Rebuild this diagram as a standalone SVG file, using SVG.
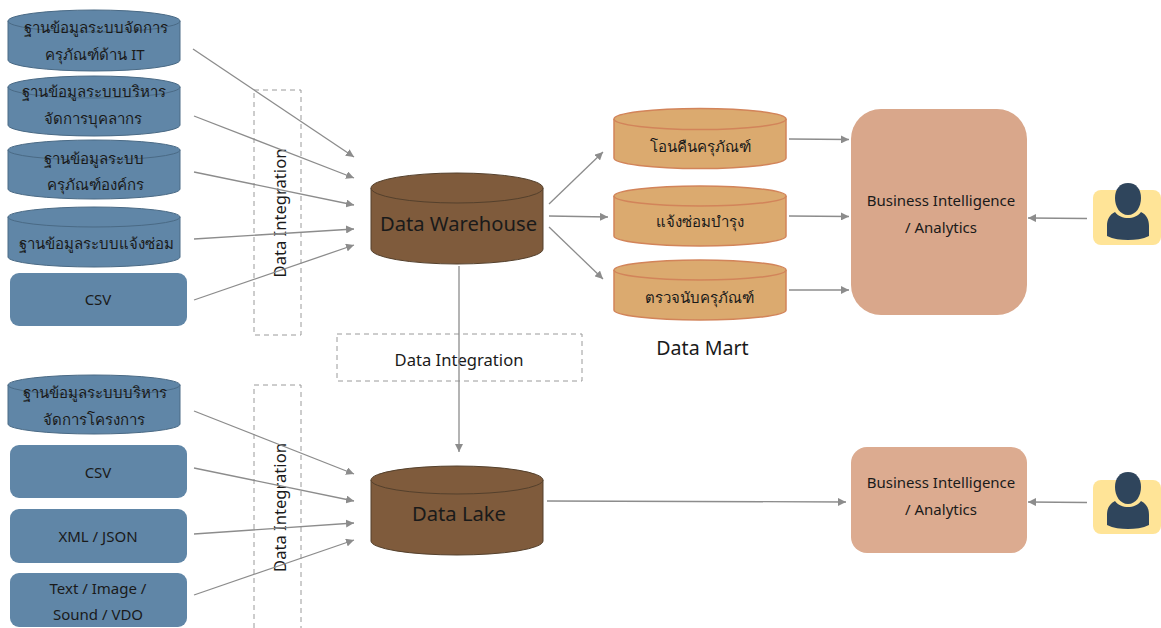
<svg xmlns="http://www.w3.org/2000/svg" width="1161" height="628" viewBox="0 0 1161 628">
<style>
text{font-family:"Noto Sans","Open Sans","DejaVu Sans",sans-serif;fill:#1a1a1a;text-anchor:middle}
.s{font-size:15px}
.i{font-size:16.600px}
.m{font-size:20.200px}
.blue{fill:#6086a7;stroke:#4a6a85;stroke-width:1}
.rblue{fill:#6086a7;stroke:none}
.brown{fill:#7f5b3c;stroke:#54402c;stroke-width:1}
.tan{fill:#dbaa6f;stroke:#d2845a;stroke-width:1.5}
.dash{fill:none;stroke:#9a9a9a;stroke-width:1;stroke-dasharray:5 4}
.c{stroke:#8c8c8c;stroke-width:1.300;fill:none;marker-end:url(#a)}
.u{fill:#2f455c}
.y{fill:#ffe497}
</style>
<defs>
<marker id="a" viewBox="0 0 10 10" refX="10" refY="5" markerWidth="8" markerHeight="8" orient="auto" markerUnits="userSpaceOnUse"><path d="M0 0L10 5L0 10Z" fill="#8c8c8c"/></marker>
<g id="user"><path d="M1128 183c-8 0-13 6-13 15 0 9 5 17 13 17s13-8 13-17c0-9-5-15-13-15z" class="u"/><path d="M1115 212c-6 3-8 8-8 14l0 10c6 3 14 4 21 4s15-1 21-4l0-10c0-6-2-11-8-14-3 4-8 6-13 6s-10-2-13-6z" class="u"/></g>
</defs>
<g id="integration-1"><rect class="dash" x="254" y="90" width="47" height="245"/><text class="i" transform="translate(286 213) rotate(-90)">Data Integration</text></g>
<g id="integration-2"><rect class="dash" x="254" y="385" width="47" height="250"/><text class="i" transform="translate(286 507.500) rotate(-90)">Data Integration</text></g>
<g id="integration-3"><rect class="dash" x="337" y="334" width="245" height="47"/><text class="i" x="459" y="366">Data Integration</text></g>
<g id="connectors">
<path class="c" d="M193 49L354 157"/>
<path class="c" d="M194 116L354 178"/>
<path class="c" d="M194 172L354 205"/>
<path class="c" d="M194 239L354 229"/>
<path class="c" d="M194 300L354 245"/>
<path class="c" d="M194 411L354 474"/>
<path class="c" d="M194 468L354 501"/>
<path class="c" d="M194 534L354 523"/>
<path class="c" d="M194 595L354 540"/>
<path class="c" d="M549 204L603 152"/>
<path class="c" d="M549 216L608 217"/>
<path class="c" d="M549 227L603 279"/>
<path class="c" d="M459 266L459 452"/>
<path class="c" d="M547 501L846 502"/>
<path class="c" d="M789 139L849 139.500"/>
<path class="c" d="M789 216L849 216.500"/>
<path class="c" d="M789 290L849 290"/>
<path class="c" d="M1087 218.500L1028 218"/>
<path class="c" d="M1087 502.500L1028 502"/>
</g>
<g id="db-it"><path class="blue" d="M8 21A86 11 0 0 1 180 21V60A86 11 0 0 1 8 60Z"/><path class="blue" d="M8 21A86 11 0 0 0 180 21" fill="none"/><text class="s" x="96" y="33">ฐานข้อมูลระบบจัดการ</text><text class="s" x="95" y="60">ครุภัณฑ์ด้าน IT</text></g>
<g id="db-hr"><path class="blue" d="M8 87A86 11 0 0 1 180 87V125A86 11 0 0 1 8 125Z"/><path class="blue" d="M8 87A86 11 0 0 0 180 87" fill="none"/><text class="s" x="94" y="97">ฐานข้อมูลระบบบริหาร</text><text class="s" x="93" y="124">จัดการบุคลากร</text></g>
<g id="db-org"><path class="blue" d="M8 150A86 10 0 0 1 180 150V189A86 10 0 0 1 8 189Z"/><path class="blue" d="M8 150A86 10 0 0 0 180 150" fill="none"/><text class="s" x="94" y="164">ฐานข้อมูลระบบ</text><text class="s" x="95" y="190">ครุภัณฑ์องค์กร</text></g>
<g id="db-repair"><path class="blue" d="M8 217A86 10 0 0 1 180 217V257A86 10 0 0 1 8 257Z"/><path class="blue" d="M8 217A86 10 0 0 0 180 217" fill="none"/><text class="s" x="96" y="249">ฐานข้อมูลระบบแจ้งซ่อม</text></g>
<g id="csv-1"><rect class="rblue" x="10" y="273" width="177" height="53" rx="9"/><text class="s" x="98" y="305">CSV</text></g>
<g id="db-project"><path class="blue" d="M8 385A86 10 0 0 1 180 385V424A86 10 0 0 1 8 424Z"/><path class="blue" d="M8 385A86 10 0 0 0 180 385" fill="none"/><text class="s" x="95" y="398">ฐานข้อมูลระบบบริหาร</text><text class="s" x="94" y="425">จัดการโครงการ</text></g>
<g id="csv-2"><rect class="rblue" x="10" y="445" width="177" height="53" rx="9"/><text class="s" x="98" y="478">CSV</text></g>
<g id="xml"><rect class="rblue" x="10" y="509" width="177" height="54" rx="9"/><text class="s" x="98" y="542">XML / JSON</text></g>
<g id="text"><rect class="rblue" x="10" y="573" width="177" height="54" rx="9"/><text class="s" x="98" y="594">Text / Image /</text><text class="s" x="98" y="620">Sound / VDO</text></g>
<g id="dw"><path class="brown" d="M371 188A86 15 0 0 1 543 188V249A86 15 0 0 1 371 249Z"/><path class="brown" d="M371 188A86 15 0 0 0 543 188" fill="none"/><text class="m" x="458.500" y="231">Data Warehouse</text></g>
<g id="dl"><path class="brown" d="M371 480A86 14 0 0 1 543 480V541A86 14 0 0 1 371 541Z"/><path class="brown" d="M371 480A86 14 0 0 0 543 480" fill="none"/><text class="m" x="459" y="521">Data Lake</text></g>
<g id="dm-1"><path class="tan" d="M614 119A86 10.500 0 0 1 786 119V158A86 10.500 0 0 1 614 158Z"/><path class="tan" d="M614 119A86 10.500 0 0 0 786 119" fill="none"/><text class="s" x="700" y="152">โอนคืนครุภัณฑ์</text></g>
<g id="dm-2"><path class="tan" d="M614 196A86 10 0 0 1 786 196V236A86 10 0 0 1 614 236Z"/><path class="tan" d="M614 196A86 10 0 0 0 786 196" fill="none"/><text class="s" x="700" y="227">แจ้งซ่อมบำรุง</text></g>
<g id="dm-3"><path class="tan" d="M614 270A86 10 0 0 1 786 270V310A86 10 0 0 1 614 310Z"/><path class="tan" d="M614 270A86 10 0 0 0 786 270" fill="none"/><text class="s" x="699" y="303">ตรวจนับครุภัณฑ์</text></g>
<g id="dm-label"><text x="702.500" y="355" font-size="19.600">Data Mart</text></g>
<g id="bi-1"><rect x="851" y="109" width="176" height="206" rx="30" fill="#d9a78b"/><text class="s" x="941" y="206">Business Intelligence</text><text class="s" x="941" y="233">/ Analytics</text></g>
<g id="bi-2"><rect x="851" y="447" width="176" height="106" rx="16" fill="#dcab90"/><text class="s" x="941" y="488">Business Intelligence</text><text class="s" x="941" y="515">/ Analytics</text></g>
<g id="user-1"><rect class="y" x="1093" y="190" width="68" height="55" rx="8"/><use href="#user"/></g>
<g id="user-2"><rect class="y" x="1093" y="480" width="68" height="54" rx="8"/><use href="#user" y="289"/></g>
</svg>
